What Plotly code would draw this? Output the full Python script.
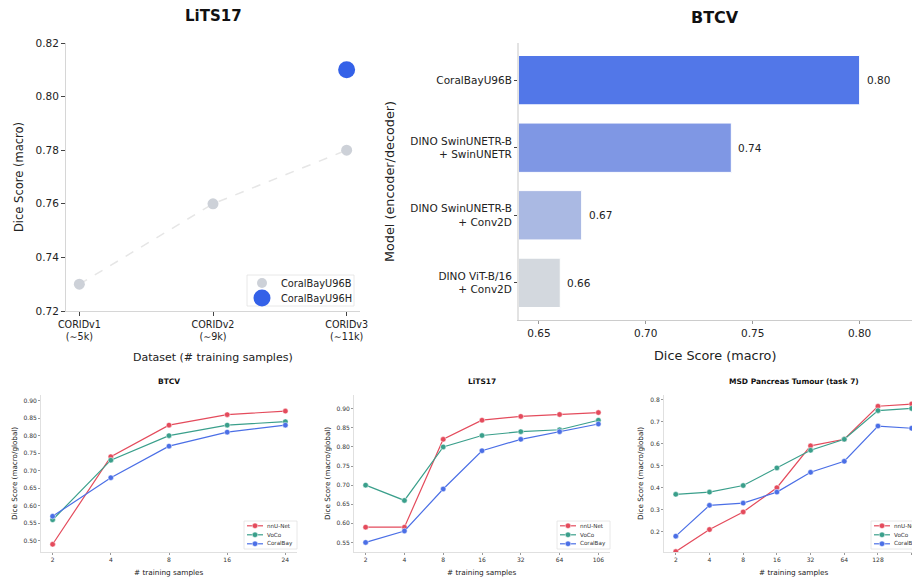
import plotly.graph_objects as go

# ---------------- data ----------------
# Top-left: LiTS17 vs pretraining dataset
lits_datasets = ["CORIDv1<br>(∼5k)", "CORIDv2<br>(∼9k)", "CORIDv3<br>(∼11k)"]
lits_u96b = [0.73, 0.76, 0.78]
lits_u96h_datasets = ["CORIDv3<br>(∼11k)"]
lits_u96h = [0.81]
top_series = ["CoralBayU96B", "CoralBayU96H"]

# Top-right: BTCV model comparison
btcv_models = ["CoralBayU96B", "DINO SwinUNETR-B<br>+ SwinUNETR",
               "DINO SwinUNETR-B<br>+ Conv2D", "DINO ViT-B/16<br>+ Conv2D"]
btcv_scores = [0.80, 0.74, 0.67, 0.66]
btcv_labels = ["0.80", "0.74", "0.67", "0.66"]

# Bottom: few-shot curves
methods = ["nnU-Net", "VoCo", "CoralBay"]

fs_btcv_samples = ["2", "4", "8", "16", "24"]
fs_btcv_nnunet = [0.49, 0.74, 0.83, 0.86, 0.87]
fs_btcv_voco = [0.56, 0.73, 0.80, 0.83, 0.84]
fs_btcv_coralbay = [0.57, 0.68, 0.77, 0.81, 0.83]

fs_lits_samples = ["2", "4", "8", "16", "32", "64", "106"]
fs_lits_nnunet = [0.59, 0.59, 0.82, 0.87, 0.88, 0.885, 0.89]
fs_lits_voco = [0.70, 0.66, 0.80, 0.83, 0.84, 0.845, 0.87]
fs_lits_coralbay = [0.55, 0.58, 0.69, 0.79, 0.82, 0.84, 0.86]

fs_msd_samples = ["2", "4", "8", "16", "32", "64", "128", "256"]
fs_msd_nnunet = [0.11, 0.21, 0.29, 0.40, 0.59, 0.62, 0.77, 0.78]
fs_msd_voco = [0.37, 0.38, 0.41, 0.49, 0.57, 0.62, 0.75, 0.76]
fs_msd_coralbay = [0.18, 0.32, 0.33, 0.38, 0.47, 0.52, 0.68, 0.67]

# ---------------- styling ----------------
W, H = 912, 581
FONT = "DejaVu Sans"
GRAY_PT = "#cdd1d8"
BLUE_PT = "#3461e8"
BAR_COLORS = ["#5277e8", "#7f97e4", "#aab9e3", "#d3d8de"]
METHOD_COLORS = ["#e44b5c", "#3a9f8b", "#4b6fe6"]
SPINE = "#d6d6d6"
TXT = "#222222"


def px(x):
    return x / W


def py(y):
    return 1 - y / H


fig = go.Figure()
annotations = []
shapes = []

# ---------- top-left ----------
fig.add_trace(go.Scatter(
    x=lits_datasets, y=lits_u96b, mode="lines",
    line=dict(color="#e6e6e6", width=1.5, dash="dash"),
    xaxis="x", yaxis="y", showlegend=False, hoverinfo="skip"))
fig.add_trace(go.Scatter(
    x=lits_datasets, y=lits_u96b, mode="markers", name=top_series[0],
    marker=dict(color=GRAY_PT, size=11),
    xaxis="x", yaxis="y", showlegend=False))
fig.add_trace(go.Scatter(
    x=lits_u96h_datasets, y=lits_u96h, mode="markers", name=top_series[1],
    marker=dict(color=BLUE_PT, size=17),
    xaxis="x", yaxis="y", showlegend=False))

# ---------- top-right ----------
fig.add_trace(go.Bar(
    x=btcv_scores, y=btcv_models, orientation="h",
    marker=dict(color=BAR_COLORS, line=dict(color="white", width=1)),
    width=0.73, xaxis="x2", yaxis="y2", showlegend=False))
for s, m, lab in zip(btcv_scores, btcv_models, btcv_labels):
    annotations.append(dict(x=s, y=m, xref="x2", yref="y2", text=lab,
                            showarrow=False, xanchor="left", xshift=5,
                            font=dict(size=10.5, color=TXT, family=FONT)))

# ---------- bottom ----------
bottom = [
    ("x3", "y3", fs_btcv_samples, [fs_btcv_nnunet, fs_btcv_voco, fs_btcv_coralbay]),
    ("x4", "y4", fs_lits_samples, [fs_lits_nnunet, fs_lits_voco, fs_lits_coralbay]),
    ("x5", "y5", fs_msd_samples, [fs_msd_nnunet, fs_msd_voco, fs_msd_coralbay]),
]
for xa, ya, samples, series in bottom:
    for name, vals, col in zip(methods, series, METHOD_COLORS):
        fig.add_trace(go.Scatter(
            x=list(range(len(samples))), y=vals, mode="lines+markers", name=name,
            line=dict(color=col, width=1.2),
            marker=dict(color=col, size=5.5, line=dict(color="white", width=0.5)),
            xaxis=xa, yaxis=ya, showlegend=False))

# ---------- axes ----------
tick_small = dict(family=FONT, size=6, color="#333")
layout_axes = dict(
    xaxis=dict(domain=[px(66), px(360)], range=[-0.1, 2.1], type="category",
               categoryarray=lits_datasets, showline=True, linecolor=SPINE,
               ticks="outside", ticklen=4, tickcolor="#444", showgrid=False,
               zeroline=False, tickfont=dict(family=FONT, size=9.6, color=TXT),
               anchor="y", automargin=False),
    yaxis=dict(domain=[py(311), py(43)], range=[0.72, 0.82], dtick=0.02,
               tickformat=".2f", showline=True, linecolor=SPINE, ticks="outside",
               ticklen=4, tickcolor="#444", showgrid=False, zeroline=False,
               tickfont=dict(family=FONT, size=10.5, color=TXT), anchor="x",
               automargin=False),
    xaxis2=dict(domain=[px(519), 1.0], range=[0.6407, 0.8245], tickvals=[0.65, 0.70, 0.75, 0.80],
                tickformat=".2f", showline=True, linecolor="#cccccc", ticks="outside",
                ticklen=3, tickcolor="#999", showgrid=False, zeroline=False,
                tickfont=dict(family=FONT, size=10.5, color=TXT), anchor="y2",
                automargin=False),
    yaxis2=dict(domain=[py(320), py(43)], type="category", categoryarray=btcv_models,
                range=[3.55, -0.55], showline=True, linecolor="#e3e3e3", linewidth=2,
                ticks="outside", ticklen=3, tickcolor="#444", showgrid=False,
                zeroline=False, tickfont=dict(family=FONT, size=10.5, color=TXT),
                anchor="x2", automargin=False),
)
bx = [(41, 297, [-0.2, 4.2], fs_btcv_samples, [0.468, 0.916], 0.05),
      (354, 610, [-0.3, 6.3], fs_lits_samples, [0.525, 0.936], 0.05),
      (664, 912, [-0.35, 7.01], fs_msd_samples, [0.108, 0.821], 0.1)]
for i, (l, r, xr, samples, yr, dt) in enumerate(bx):
    k = i + 3
    layout_axes[f"xaxis{k}"] = dict(
        domain=[px(l), px(r)], range=xr, tickvals=list(range(len(samples))),
        ticktext=samples, showline=True, linecolor="#e0e0e0", ticks="outside",
        ticklen=2, tickcolor="#999", showgrid=False, zeroline=False,
        tickfont=tick_small, anchor=f"y{k}", automargin=False)
    layout_axes[f"yaxis{k}"] = dict(
        domain=[py(552), py(395)], range=yr, dtick=dt,
        tickformat=".2f" if dt == 0.05 else ".1f", showline=True, linecolor="#e0e0e0",
        ticks="outside", ticklen=2, tickcolor="#999", showgrid=False, zeroline=False,
        tickfont=tick_small, anchor=f"x{k}", automargin=False)


# ---------- titles / labels ----------
def text(x, y, s, size, bold=False, angle=0, color=TXT, xanchor="center"):
    annotations.append(dict(x=px(x), y=py(y), xref="paper", yref="paper",
                            text=f"<b>{s}</b>" if bold else s, showarrow=False,
                            textangle=angle, xanchor=xanchor, yanchor="middle",
                            font=dict(family=FONT, size=size, color=color)))


text(213, 16, "LiTS17", 15, bold=True, color="#111")
text(715, 17, "BTCV", 16, bold=True, color="#111")
text(213, 357, "Dataset (# training samples)", 11)
text(19, 177, "Dice Score (macro)", 11.5, angle=-90)
text(715, 355, "Dice Score (macro)", 12.8)
text(389, 182, "Model (encoder/decoder)", 12.8, angle=-90)

btitles = ["BTCV", "LiTS17", "MSD Pancreas Tumour (task 7)"]
bcenters = [169, 482, 794]
ylabx = [14, 327, 640]
for t, c, yl in zip(btitles, bcenters, ylabx):
    text(c, 381, t, 7.5, bold=True, color="#111")
    text(c, 572, "# training samples", 7.3)
    text(yl, 474, "Dice Score (macro/global)", 7.2, angle=-90)


# ---------- legends (drawn manually) ----------
def circle(cx, cy, d, color, line_color=None):
    shapes.append(dict(type="circle", xref="paper", yref="paper",
                       xsizemode="pixel", ysizemode="pixel",
                       xanchor=px(cx), yanchor=py(cy),
                       x0=-d / 2, x1=d / 2, y0=-d / 2, y1=d / 2,
                       fillcolor=color,
                       line=dict(color=line_color or color, width=0.5 if line_color else 0)))


def box(x0, y0, x1, y1):
    shapes.append(dict(type="rect", xref="paper", yref="paper",
                       x0=px(x0), x1=px(x1), y0=py(y1), y1=py(y0),
                       fillcolor="rgba(255,255,255,0.85)",
                       line=dict(color="#e2e2e2", width=0.8)))


# top-left legend
box(247, 275, 354, 306)
circle(262, 283, 10, GRAY_PT)
circle(262, 298, 17, BLUE_PT)
text(279, 283, top_series[0], 9.8, xanchor="left")
text(279, 298, top_series[1], 9.8, xanchor="left")

# bottom legends
for lx in [244, 557, 871]:
    box(lx, 521, lx + 53, 549)
    for j, (name, col) in enumerate(zip(methods, METHOD_COLORS)):
        yy = 525.8 + 9 * j
        shapes.append(dict(type="line", xref="paper", yref="paper",
                           x0=px(lx + 3), x1=px(lx + 19), y0=py(yy), y1=py(yy),
                           line=dict(color=col, width=1.2)))
        circle(lx + 11, yy, 5.5, col, "white")
        text(lx + 21, yy, name, 5.6, xanchor="left", color="#333")

fig.update_layout(
    width=W, height=H, margin=dict(l=0, r=0, t=0, b=0),
    paper_bgcolor="white", plot_bgcolor="white",
    font=dict(family=FONT, color=TXT),
    annotations=annotations, shapes=shapes, showlegend=False,
    **layout_axes)

fig.write_html("out.html",
               config={"displayModeBar": False},
               post_script="document.body.style.margin='0';"
                           "document.body.style.overflow='hidden';")
